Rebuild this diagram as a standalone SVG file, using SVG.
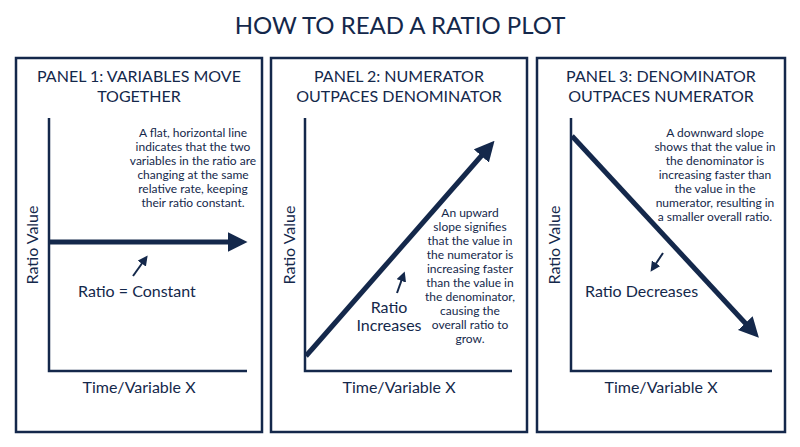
<svg xmlns="http://www.w3.org/2000/svg" width="800" height="447" viewBox="0 0 800 447">
<style>
text{font-family:Lato,"Liberation Sans",sans-serif;fill:#14284b}
.t{font-size:24px;text-anchor:middle}
.h{font-size:16px;text-anchor:middle}
.d{font-size:12px;text-anchor:middle}
.l{font-size:16px}
.box{fill:#fff;stroke:#14284b;stroke-width:2.5}
.ax{stroke:#14284b;stroke-width:2.5;fill:none}
.ar{stroke:#14284b;stroke-width:5;fill:none}
.sm{stroke:#14284b;stroke-width:2;fill:none}
</style>
<defs>
<marker id="big" markerWidth="4" markerHeight="4" refX="0.5" refY="2" orient="auto" markerUnits="strokeWidth"><path d="M0,0 L4,2 L0,4 z" fill="#14284b"/></marker>
<marker id="small" markerWidth="5" markerHeight="5" refX="1" refY="2.5" orient="auto" markerUnits="strokeWidth"><path d="M0,0 L5,2.5 L0,5 z" fill="#14284b"/></marker>
</defs>
<rect width="800" height="447" fill="#fff"/>
<text class="t" x="400" y="34">HOW TO READ A RATIO PLOT</text>
<g id="panel1">
<rect class="box" x="16" y="58" width="246" height="374"/>
<text class="h" x="139" y="82">PANEL 1: VARIABLES MOVE</text>
<text class="h" x="139" y="102">TOGETHER</text>
<text class="d" x="193" y="137">A flat, horizontal line</text>
<text class="d" x="193" y="151">indicates that the two</text>
<text class="d" x="193" y="165">variables in the ratio are</text>
<text class="d" x="193" y="179">changing at the same</text>
<text class="d" x="193" y="193">relative rate, keeping</text>
<text class="d" x="193" y="207">their ratio constant.</text>
<text class="l" x="38" y="245" transform="rotate(-90 38 245)" text-anchor="middle">Ratio Value</text>
<text class="l" x="78" y="297">Ratio = Constant</text>
<text class="l" x="139" y="393" text-anchor="middle">Time/Variable X</text>
</g>
<g id="panel2">
<rect class="box" x="271" y="58" width="256" height="374"/>
<text class="h" x="399" y="82">PANEL 2: NUMERATOR</text>
<text class="h" x="399" y="102">OUTPACES DENOMINATOR</text>
<text class="d" x="470" y="217">An upward</text>
<text class="d" x="470" y="231">slope signifies</text>
<text class="d" x="470" y="245">that the value in</text>
<text class="d" x="470" y="259">the numerator is</text>
<text class="d" x="470" y="273">increasing faster</text>
<text class="d" x="470" y="287">than the value in</text>
<text class="d" x="470" y="301">the denominator,</text>
<text class="d" x="470" y="315">causing the</text>
<text class="d" x="470" y="329">overall ratio to</text>
<text class="d" x="470" y="343">grow.</text>
<text class="l" x="295" y="245" transform="rotate(-90 295 245)" text-anchor="middle">Ratio Value</text>
<text class="l" x="389" y="313" text-anchor="middle">Ratio</text>
<text class="l" x="389" y="331" text-anchor="middle">Increases</text>
<text class="l" x="399" y="393" text-anchor="middle">Time/Variable X</text>
</g>
<g id="panel3">
<rect class="box" x="537" y="58" width="248" height="374"/>
<text class="h" x="661" y="82">PANEL 3: DENOMINATOR</text>
<text class="h" x="661" y="102">OUTPACES NUMERATOR</text>
<text class="d" x="715" y="137">A downward slope</text>
<text class="d" x="715" y="151">shows that the value in</text>
<text class="d" x="715" y="165">the denominator is</text>
<text class="d" x="715" y="179">increasing faster than</text>
<text class="d" x="715" y="193">the value in the</text>
<text class="d" x="715" y="207">numerator, resulting in</text>
<text class="d" x="715" y="221">a smaller overall ratio.</text>
<text class="l" x="560" y="245" transform="rotate(-90 560 245)" text-anchor="middle">Ratio Value</text>
<text class="l" x="585" y="297">Ratio Decreases</text>
<text class="l" x="661" y="393" text-anchor="middle">Time/Variable X</text>
</g>
<g id="connectors">
<path class="ax" d="M49,118 V371 H247"/>
<path class="ax" d="M305,118 V371 H512"/>
<path class="ax" d="M571,118 V371 H772"/>
<path class="ar" d="M49,242 H230" marker-end="url(#big)"/>
<path class="ar" d="M306,356 L483,154" marker-end="url(#big)"/>
<path class="ar" d="M572,136 L747,325" marker-end="url(#big)"/>
<path class="sm" d="M133,276 L143,262" marker-end="url(#small)"/>
<path class="sm" d="M397,293 L402,279" marker-end="url(#small)"/>
<path class="sm" d="M663,253 L655,265" marker-end="url(#small)"/>
</g>
</svg>
